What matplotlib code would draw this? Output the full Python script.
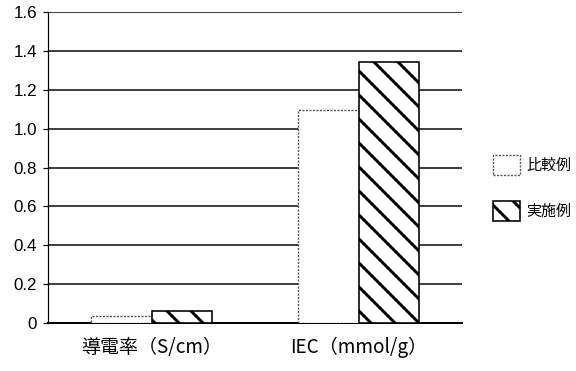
import matplotlib.pyplot as plt
import numpy as np

categories = ["導電率（S/cm）", "IEC（mmol/g）"]
series_names = ["比較例", "実施例"]
comparison = [0.036, 1.095]
example = [0.062, 1.345]
yticks = [0, 0.2, 0.4, 0.6, 0.8, 1.0, 1.2, 1.4, 1.6]
ytick_labels = ["0", "0.2", "0.4", "0.6", "0.8", "1.0", "1.2", "1.4", "1.6"]

jp = ["Noto Sans CJK JP", "DejaVu Sans"]
plt.rcParams["hatch.linewidth"] = 1.5

fig = plt.figure(figsize=(4, 371 / 144), dpi=144)
ax = fig.add_axes([48 / 576, 1 - 323 / 371, 414 / 576, 311 / 371])

x = np.arange(len(categories))
w = 0.29
b1 = ax.bar(x - w / 2, comparison, w, facecolor="white", edgecolor="#555555",
            linewidth=0.7, linestyle=(0, (1.5, 1)), label=series_names[0], zorder=3)
b2 = ax.bar(x + w / 2, example, w, facecolor="white", edgecolor="black",
            linewidth=0.8, hatch="\\\\", label=series_names[1], zorder=3)

ax.set_xlim(-0.5, 1.5)
ax.set_ylim(0, 1.6)
ax.set_yticks(yticks)
ax.set_yticklabels(ytick_labels, fontfamily="Liberation Sans", fontsize=8.5)
ax.set_xticks(x)
ax.set_xticklabels(categories, fontfamily=jp, fontsize=9.5)
ax.tick_params(axis="x", length=0, pad=7)
ax.tick_params(axis="y", length=2.5, width=0.6, pad=3)

ax.grid(axis="y", color="#222222", linewidth=0.85)
ax.set_axisbelow(True)
for s in ["top", "right"]:
    ax.spines[s].set_visible(False)
ax.spines["left"].set_linewidth(0.6)
ax.spines["bottom"].set_linewidth(1.0)

fig.legend(handles=[b1, b2], labels=series_names, loc="center left",
           bbox_to_anchor=(479 / 576, 1 - 188 / 371), frameon=False,
           prop={"family": jp, "size": 7.5}, handlelength=1.85, handleheight=1.7,
           labelspacing=1.7, handletextpad=0.4)

fig.savefig("out.png", dpi=144)
